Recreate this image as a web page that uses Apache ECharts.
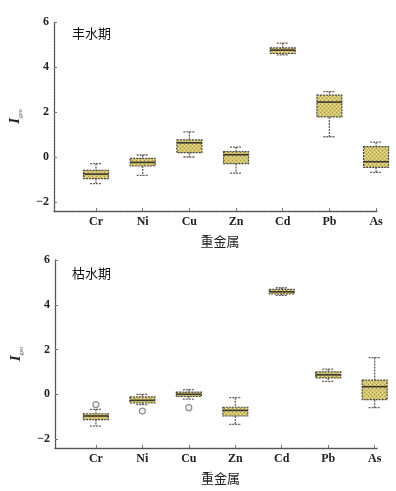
<!DOCTYPE html>
<html>
<head>
<meta charset="utf-8">
<script src="https://cdn.jsdelivr.net/npm/echarts@6/dist/echarts.min.js"></script>
<style>
html,body{margin:0;padding:0;background:#fff;}
#chart{width:396px;height:491px;}
</style>
</head>
<body>
<div id="chart"></div>
<script>
// ---- data ----
var categories = ['Cr', 'Ni', 'Cu', 'Zn', 'Cd', 'Pb', 'As'];
var yTicks = [-2, 0, 2, 4, 6];

// 丰水期 (wet season)
var wetMin = [-1.18, -0.82, 0.00, -0.72, 4.54, 0.90, -0.68];
var wetQ1  = [-0.96, -0.40, 0.19, -0.29, 4.60, 1.78, -0.46];
var wetMed = [-0.76, -0.24, 0.63, 0.10, 4.75, 2.44, -0.21];
var wetQ3  = [-0.59, -0.06, 0.76, 0.24, 4.85, 2.75, 0.46];
var wetMax = [-0.29, 0.09, 1.12, 0.44, 5.06, 2.91, 0.66];

// 枯水期 (dry season)
var dryMin = [-1.42, -0.46, -0.22, -1.34, 4.42, 0.58, -0.60];
var dryQ1  = [-1.13, -0.39, -0.10, -0.97, 4.48, 0.73, -0.24];
var dryMed = [-0.97, -0.27, 0.00, -0.72, 4.58, 0.87, 0.34];
var dryQ3  = [-0.87, -0.12, 0.10, -0.58, 4.69, 1.00, 0.63];
var dryMax = [-0.67, 0.00, 0.21, -0.15, 4.76, 1.12, 1.64];
var dryOutlierCat = ['Cr', 'Ni', 'Cu'];
var dryOutlierVal = [-0.46, -0.75, -0.60];

// ---- build ----
function boxData(mn, q1, md, q3, mx) {
  return categories.map(function (c, i) {
    return [i + 1, mn[i], q1[i], md[i], q3[i], mx[i]];
  });
}

// dotted fill pattern
var pat = document.createElement('canvas');
pat.width = 4; pat.height = 4;
var pc = pat.getContext('2d');
pc.fillStyle = '#d3c66f'; pc.fillRect(0, 0, 4, 4);
pc.fillStyle = '#a99b4a'; pc.fillRect(0, 0, 1, 1); pc.fillRect(2, 2, 1, 1);
pc.fillStyle = '#e9dc94'; pc.fillRect(2, 0, 1, 1); pc.fillRect(0, 2, 1, 1);
var fillPattern = { image: pat, repeat: 'repeat' };

var BOX_W = 25, CAP_W = 12;
function renderBox(params, api) {
  var x = api.value(0);
  var pMin = api.coord([x, api.value(1)]);
  var pQ1 = api.coord([x, api.value(2)]);
  var pMed = api.coord([x, api.value(3)]);
  var pQ3 = api.coord([x, api.value(4)]);
  var pMax = api.coord([x, api.value(5)]);
  var cx = pMed[0];
  var whisk = { stroke: '#6a5f5a', lineWidth: 1.3, lineDash: [2, 1] };
  return {
    type: 'group',
    children: [
      { type: 'line', shape: { x1: cx, y1: pMax[1], x2: cx, y2: pQ3[1] }, style: whisk },
      { type: 'line', shape: { x1: cx, y1: pQ1[1], x2: cx, y2: pMin[1] }, style: whisk },
      { type: 'line', shape: { x1: cx - CAP_W / 2, y1: pMax[1], x2: cx + CAP_W / 2, y2: pMax[1] }, style: whisk },
      { type: 'line', shape: { x1: cx - CAP_W / 2, y1: pMin[1], x2: cx + CAP_W / 2, y2: pMin[1] }, style: whisk },
      { type: 'rect', shape: { x: cx - BOX_W / 2, y: pQ3[1], width: BOX_W, height: pQ1[1] - pQ3[1] },
        style: { fill: fillPattern, stroke: '#4a4640', lineWidth: 1.2, lineDash: [2, 1] } },
      { type: 'line', shape: { x1: cx - BOX_W / 2, y1: pMed[1], x2: cx + BOX_W / 2, y2: pMed[1] },
        style: { stroke: '#3a3630', lineWidth: 1.6 } }
    ]
  };
}

var serif = '"Liberation Serif", "DejaVu Serif", serif';
var axisLineStyle = { color: '#555', width: 1.3, type: [2, 1] };
function fmtNum(v) { return String(v).replace('-', '\u2212'); }

function makeX(idx, min, max) {
  return {
    type: 'value', gridIndex: idx, min: min, max: max,
    axisLine: { show: true, onZero: false, lineStyle: axisLineStyle },
    axisTick: { show: true, inside: true, length: 3, customValues: [1, 2, 3, 4, 5, 6, 7], lineStyle: { color: '#777' } },
    axisLabel: { customValues: [1, 2, 3, 4, 5, 6, 7], formatter: function (v) { return categories[Math.round(v) - 1] || ''; },
      fontFamily: serif, fontSize: 12, fontWeight: 'bold', color: '#222', margin: 5 },
    splitLine: { show: false },
    name: '重金属', nameLocation: 'middle', nameGap: 24,
    nameTextStyle: { fontFamily: '"Noto Sans CJK SC", sans-serif', fontSize: 13, color: '#222', padding: [0, 0, 0, 9] }
  };
}
function makeY(idx) {
  return {
    type: 'value', gridIndex: idx, min: -2.4, max: 6,
    axisLine: { show: true, onZero: false, lineStyle: axisLineStyle },
    axisTick: { show: true, inside: true, length: 3, customValues: yTicks, lineStyle: { color: '#777' } },
    axisLabel: { customValues: yTicks, formatter: fmtNum, fontFamily: serif, fontSize: 12, fontWeight: 'bold', color: '#222', margin: 5 },
    splitLine: { show: false },
    name: '{i|I}{s|geo}', nameLocation: 'middle', nameGap: 31,
    nameTextStyle: {
      rich: {
        i: { fontFamily: serif, fontStyle: 'italic', fontWeight: 'bold', fontSize: 15, color: '#222' },
        s: { fontFamily: serif, fontSize: 6, color: '#555', verticalAlign: 'bottom', padding: [6, 0, 0, 0] }
      }
    }
  };
}

var chart = echarts.init(document.getElementById('chart'), null, { renderer: 'canvas' });
chart.setOption({
  animation: false,
  backgroundColor: '#fff',
  title: [
    { text: '丰水期', left: 67, top: 22, textStyle: { fontFamily: '"Noto Sans CJK SC", sans-serif', fontSize: 13, fontWeight: 'normal', color: '#111' } },
    { text: '枯水期', left: 67, top: 262, textStyle: { fontFamily: '"Noto Sans CJK SC", sans-serif', fontSize: 13, fontWeight: 'normal', color: '#111' } }
  ],
  grid: [
    { left: 54, right: 19, top: 22, bottom: 280 },
    { left: 55, right: 19, top: 260, bottom: 43 }
  ],
  xAxis: [makeX(0, 0.1, 7.02), makeX(1, 0.12, 7.05)],
  yAxis: [makeY(0), makeY(1)],
  series: [
    { type: 'custom', xAxisIndex: 0, yAxisIndex: 0, renderItem: renderBox,
      encode: { x: 0, y: [1, 2, 3, 4, 5] }, data: boxData(wetMin, wetQ1, wetMed, wetQ3, wetMax) },
    { type: 'custom', xAxisIndex: 1, yAxisIndex: 1, renderItem: renderBox,
      encode: { x: 0, y: [1, 2, 3, 4, 5] }, data: boxData(dryMin, dryQ1, dryMed, dryQ3, dryMax) },
    { type: 'scatter', xAxisIndex: 1, yAxisIndex: 1, symbol: 'circle', symbolSize: 6,
      itemStyle: { color: '#eee', borderColor: '#777', borderWidth: 1.2 },
      data: dryOutlierCat.map(function (c, i) { return [categories.indexOf(c) + 1, dryOutlierVal[i]]; }) }
  ]
});
</script>
</body>
</html>
